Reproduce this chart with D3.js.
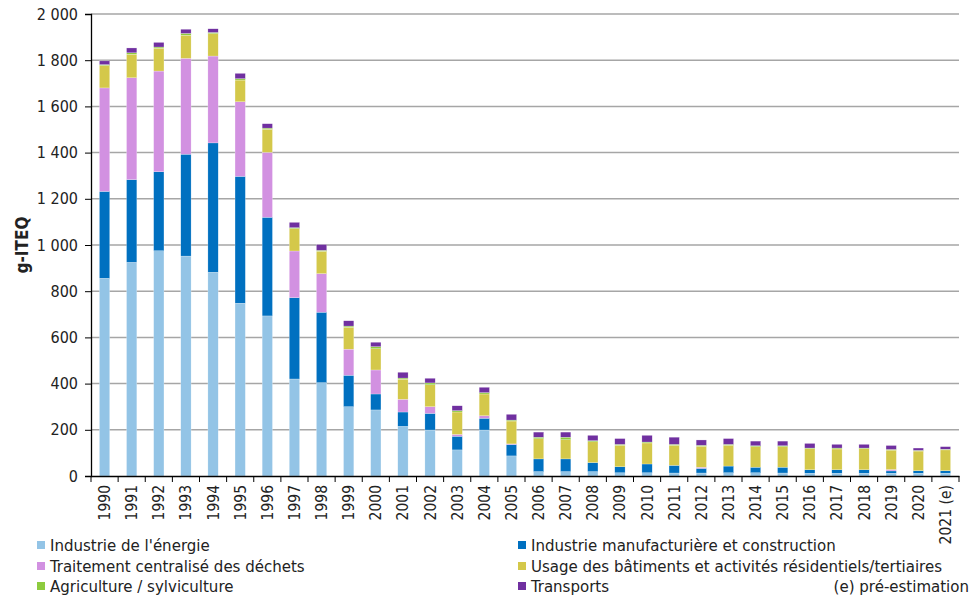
<!DOCTYPE html>
<html>
<head>
<meta charset="utf-8">
<script src="https://cdn.jsdelivr.net/npm/d3@7"></script>
<style>
  body { margin: 0; background: #fff; }
  svg text { font-family: "DejaVu Sans Condensed", "DejaVu Sans", sans-serif; fill: #222; }
</style>
</head>
<body>
<div id="chart"></div>
<script>
// Emissions de dioxines et furanes (g-ITEQ) par secteur
var years = ["1990","1991","1992","1993","1994","1995","1996","1997","1998","1999",
             "2000","2001","2002","2003","2004","2005","2006","2007","2008","2009",
             "2010","2011","2012","2013","2014","2015","2016","2017","2018","2019",
             "2020","2021 (e)"];

var energie   = [856,925,975,952,882,748,693,420,404,300,286,215,199,113,199,87,19,19,19,14,14,13,13,14,14,13,12,12,12,12,12,12];
var manuf     = [376,358,342,441,560,549,427,352,305,136,69,62,72,59,51,49,55,55,39,26,38,33,20,29,24,25,15,15,15,10,11,11];
var dechets   = [448,441,436,415,376,323,281,202,167,113,104,55,29,8,11,3,0,0,0,0,0,0,5,0,0,0,0,0,0,6,0,0];
var batiments = [97,102,99,100,97,94,100,97,97,95,92,87,95,97,94,99,87,83,90,93,91,87,91,90,89,89,91,90,91,84,85,90];
var agri      = [4,6,5,8,5,6,5,4,4,5,9,5,8,6,6,4,7,11,5,4,4,4,4,4,4,4,3,4,3,3,3,3];
var transports= [16,21,20,18,16,23,19,23,25,23,19,25,20,21,23,25,22,22,23,25,29,31,23,25,20,20,20,16,16,17,10,11];

var seriesNames = ["Industrie de l'énergie", "Industrie manufacturière et construction",
                   "Traitement centralisé des déchets", "Usage des bâtiments et activités résidentiels/tertiaires",
                   "Agriculture / sylviculture", "Transports"];
var seriesData = [energie, manuf, dechets, batiments, agri, transports];
var colors = ["#93C4E6", "#0070C0", "#D291E1", "#D4C84A", "#8DCB3E", "#7030A0"];
var yTicks = [0,200,400,600,800,1000,1200,1400,1600,1800,2000];

var W = 975, H = 596;
var margin = {top: 14, right: 16, bottom: 120, left: 91};
var width = W - margin.left - margin.right,
    height = H - margin.top - margin.bottom;

var svg = d3.select("#chart").append("svg")
    .attr("width", W).attr("height", H);

var g = svg.append("g")
    .attr("transform", "translate(" + margin.left + "," + margin.top + ")");

var x = d3.scaleBand().domain(years).range([0, width]).paddingInner(0.62).paddingOuter(0.31);
var y = d3.scaleLinear().domain([0, 2000]).range([height, 0]);

var fmt = function (d) { return d3.format(",")(d).replace(",", " "); };

// grille
g.append("g").selectAll("line")
    .data(yTicks.slice(1))
    .enter().append("line")
    .attr("x1", 0).attr("x2", width)
    .attr("y1", function (d) { return y(d); })
    .attr("y2", function (d) { return y(d); })
    .style("stroke", "#A6A6A6")
    .style("stroke-width", 1.5);

// empilement
var table = years.map(function (yr, i) {
    var row = {year: yr};
    seriesData.forEach(function (s, k) { row["s" + k] = s[i]; });
    return row;
});
var stack = d3.stack().keys(seriesNames.map(function (d, k) { return "s" + k; }));
var layers = stack(table);

g.selectAll("g.layer")
    .data(layers)
    .enter().append("g")
    .attr("class", "layer")
    .style("fill", function (d, k) { return colors[k]; })
    .selectAll("rect")
    .data(function (d) { return d; })
    .enter().append("rect")
    .attr("x", function (d) { return x(d.data.year); })
    .attr("width", x.bandwidth())
    .attr("y", function (d) { return y(d[1]); })
    .attr("height", function (d) { return Math.max(0, y(d[0]) - y(d[1])); })
    .style("stroke", "#fff")
    .style("stroke-width", 0.4)
    .style("stroke-opacity", 0.6);

// axe Y
var yAxis = g.append("g")
    .call(d3.axisLeft(y).tickValues(yTicks).tickFormat(fmt).tickSizeOuter(0).tickSize(6).tickPadding(7));
yAxis.select(".domain").style("stroke", "#000").style("stroke-width", 1.3);
yAxis.selectAll(".tick line").style("stroke", "#000");
yAxis.selectAll("text").style("font-size", "16px").style("fill", "#222");

// axe X
var xAxis = g.append("g")
    .attr("transform", "translate(0," + height + ")")
    .call(d3.axisBottom(x).tickSize(0).tickSizeOuter(0));
xAxis.select(".domain").style("stroke", "#000").style("stroke-width", 1.3);
xAxis.selectAll("text")
    .style("font-size", "15.5px")
    .style("fill", "#222")
    .style("text-anchor", "end")
    .attr("dx", "-9px")
    .attr("dy", "0.35em")
    .attr("y", 0)
    .attr("x", 0)
    .attr("transform", "rotate(-90)");

// graduations entre les barres
g.append("g").selectAll("line")
    .data(d3.range(years.length + 1))
    .enter().append("line")
    .attr("x1", function (i) { return i * width / years.length; })
    .attr("x2", function (i) { return i * width / years.length; })
    .attr("y1", height).attr("y2", height + 6)
    .style("stroke", "#000");

// titre axe Y
svg.append("text")
    .attr("transform", "rotate(-90)")
    .attr("x", -(margin.top + height / 2))
    .attr("y", 28)
    .style("text-anchor", "middle")
    .style("font-size", "17px")
    .style("font-weight", "bold")
    .text("g-ITEQ");

// légende
var legendPos = [[37, 545], [518, 545], [37, 566], [518, 566], [37, 586], [518, 586]];
var legend = svg.append("g").selectAll("g")
    .data(seriesNames)
    .enter().append("g")
    .attr("transform", function (d, i) { return "translate(" + legendPos[i][0] + "," + legendPos[i][1] + ")"; });
legend.append("rect")
    .attr("x", 0).attr("y", -4).attr("width", 8).attr("height", 8)
    .style("fill", function (d, i) { return colors[i]; });
legend.append("text")
    .attr("x", 13).attr("dy", "0.35em")
    .style("font-size", "16.7px")
    .text(function (d) { return d; });

svg.append("text")
    .attr("x", 969).attr("y", 586).attr("dy", "0.35em")
    .style("text-anchor", "end")
    .style("font-size", "16.7px")
    .text("(e) pré-estimation");
</script>
</body>
</html>
